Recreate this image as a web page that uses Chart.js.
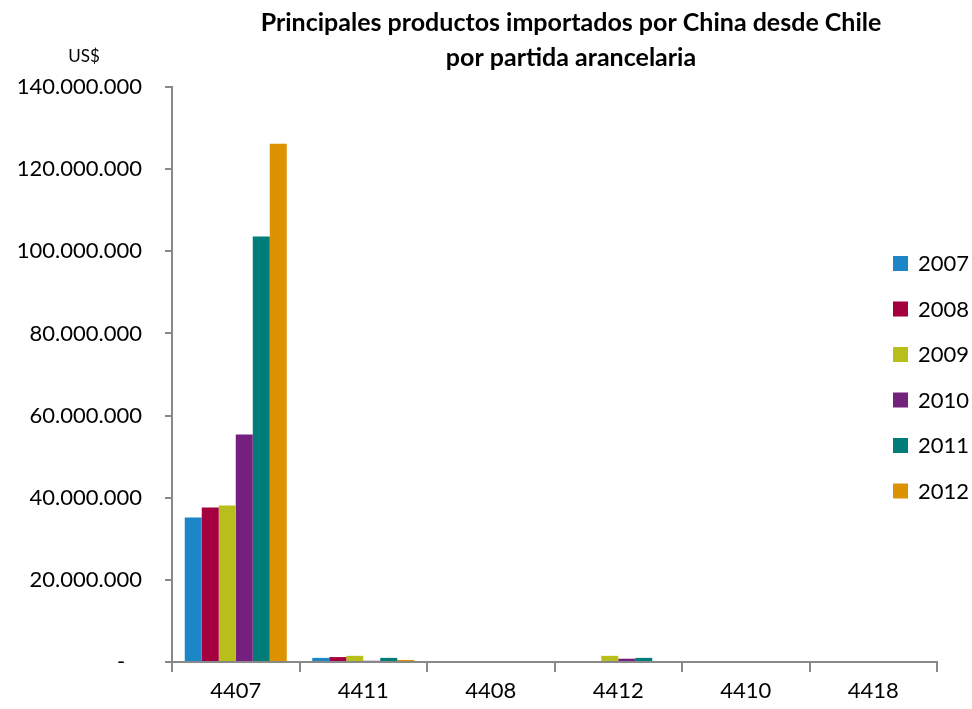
<!DOCTYPE html>
<html>
<head>
<meta charset="utf-8">
<script src="https://cdn.jsdelivr.net/npm/chart.js@4"></script>
<style>
  body { margin: 0; background: #fff; }
</style>
</head>
<body>
<canvas id="grafico" width="972" height="709"></canvas>
<script>
// Partidas arancelarias y valores por año (US$)
const partidas = ["4407", "4411", "4408", "4412", "4410", "4418"];
const anios = ["2007", "2008", "2009", "2010", "2011", "2012"];
const v2007 = [35200000, 1000000, 0, 0, 0, 0];
const v2008 = [37600000, 1200000, 0, 0, 0, 0];
const v2009 = [38100000, 1500000, 0, 1500000, 0, 0];
const v2010 = [55400000, 300000, 0, 800000, 0, 0];
const v2011 = [103600000, 1000000, 0, 1000000, 0, 0];
const v2012 = [126200000, 500000, 0, 0, 0, 0];
const colores = ["#1C86C7", "#A4003F", "#B8BE1A", "#74207F", "#007D78", "#DD9300"];
const series = [v2007, v2008, v2009, v2010, v2011, v2012];

const fuente = "Lato, 'Open Sans', sans-serif";

function formato(v) {
  if (v === 0) return "-   ";
  return String(v).replace(/\B(?=(\d{3})+(?!\d))/g, ".");
}

// título, etiqueta US$ y leyenda dibujados a mano
const textos = {
  id: "textos",
  afterDraw(chart) {
    const ctx = chart.ctx;
    ctx.save();
    ctx.fillStyle = "#000";
    ctx.textAlign = "center";
    ctx.textBaseline = "middle";
    ctx.font = "bold 25px " + fuente;
    ctx.fillText("Principales productos importados por China desde Chile", 571, 23);
    ctx.fillText("por partida arancelaria", 571, 58);
    ctx.font = "17px " + fuente;
    ctx.fillText("US$", 84, 57);

    ctx.textAlign = "left";
    ctx.font = "22px " + fuente;
    chart.data.datasets.forEach((ds, i) => {
      const y = 264 + i * 45.5;
      ctx.fillStyle = ds.backgroundColor;
      ctx.fillRect(893, y - 8, 15, 15);
      ctx.fillStyle = "#000";
      ctx.fillText(ds.label, 918, y);
    });
    ctx.restore();
  }
};

new Chart(document.getElementById("grafico"), {
  type: "bar",
  data: {
    labels: partidas,
    datasets: anios.map((a, i) => ({
      label: a,
      data: series[i],
      backgroundColor: colores[i],
      barPercentage: 1,
      categoryPercentage: 0.8
    }))
  },
  options: {
    responsive: false,
    animation: false,
    layout: { padding: { top: 87, right: 35, bottom: 0, left: 0 } },
    plugins: {
      legend: { display: false },
      title: { display: false },
      tooltip: { enabled: false }
    },
    scales: {
      x: {
        grid: { drawOnChartArea: false, color: "#888", tickLength: 10, lineWidth: 2 },
        border: { color: "#888", width: 2 },
        ticks: { color: "#000", font: { family: fuente, size: 22 }, padding: 6 },
        afterFit(s) { s.height = 47; }
      },
      y: {
        min: 0,
        max: 140000000,
        grid: { drawOnChartArea: false, color: "#888", tickLength: 7, lineWidth: 2 },
        border: { color: "#888", width: 2 },
        ticks: {
          stepSize: 20000000,
          color: "#000",
          font: { family: fuente, size: 22 },
          padding: 23,
          callback: v => formato(v)
        },
        afterFit(s) { s.width = 172; }
      }
    }
  },
  plugins: [textos]
});
</script>
</body>
</html>
